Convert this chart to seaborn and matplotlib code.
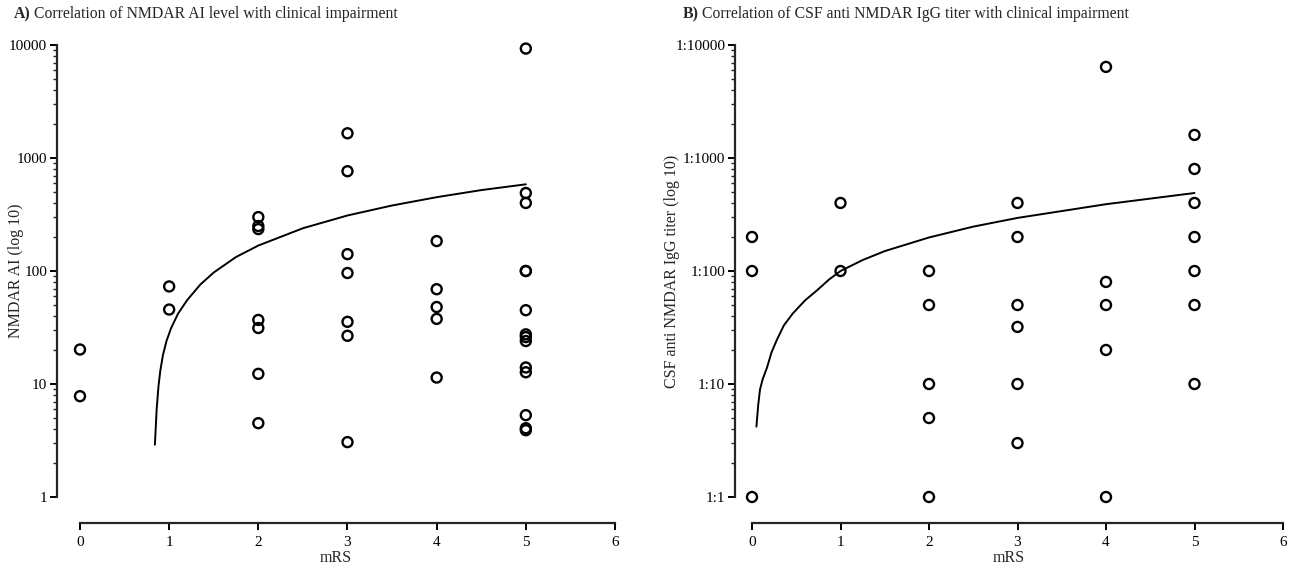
import numpy as np
import pandas as pd
import matplotlib
matplotlib.use("Agg")
import matplotlib.pyplot as plt
import matplotlib.ticker as mticker
import seaborn as sns

# --- data ---
# panel A: NMDAR AI level per mRS grade
ai_mrs0 = [20.2, 7.8]
ai_mrs1 = [73, 45.6]
ai_mrs2 = [300, 250, 235, 36.9, 31.3, 12.3, 4.5]
ai_mrs3 = [1655, 764, 141, 96, 35.5, 26.7, 3.06]
ai_mrs4 = [184, 69, 48, 37.7, 11.4]
ai_mrs5 = [9300, 490, 400, 100, 100, 45, 27.5, 26, 24, 14, 12.7, 5.3, 4.06, 3.9]

# panel B: CSF anti NMDAR IgG titer (reciprocal) per mRS grade
csf_mrs0 = [200, 100, 1]
csf_mrs1 = [400, 100]
csf_mrs2 = [100, 50, 10, 5, 1]
csf_mrs3 = [400, 200, 50, 32, 10, 3]
csf_mrs4 = [6400, 80, 50, 20, 1]
csf_mrs5 = [1600, 800, 400, 200, 100, 50, 10]

# fitted curves
fit_a_x = [0.84, 0.86, 0.88, 0.90, 0.93, 0.97, 1.02, 1.1, 1.2, 1.35, 1.5, 1.75, 2.0, 2.5, 3.0, 3.5, 4.0, 4.5, 5.0]
fit_a_y = [2.9, 6.0, 9.5, 13, 18, 24, 31, 42, 55, 76, 97, 133, 168, 239, 310, 380, 450, 520, 585]
fit_b_x = [0.05, 0.07, 0.09, 0.12, 0.17, 0.22, 0.28, 0.36, 0.46, 0.6, 0.74, 0.87, 1.0, 1.25, 1.5, 2.0, 2.5, 3.0, 4.0, 5.0]
fit_b_y = [4.2, 6.5, 8.9, 11, 14, 19, 24.5, 33, 42, 55, 68, 84, 100, 125, 150, 198, 247, 295, 390, 490]

y_ticks = [1, 10, 100, 1000, 10000]
x_ticks = [0, 1, 2, 3, 4, 5, 6]


def to_frame(groups):
    rows = []
    for mrs, vals in enumerate(groups):
        for v in vals:
            rows.append({"mRS": mrs, "value": v})
    return pd.DataFrame(rows)


df_a = to_frame([ai_mrs0, ai_mrs1, ai_mrs2, ai_mrs3, ai_mrs4, ai_mrs5])
df_b = to_frame([csf_mrs0, csf_mrs1, csf_mrs2, csf_mrs3, csf_mrs4, csf_mrs5])

sns.set_style("ticks")
plt.rcParams["font.family"] = ["Liberation Serif", "DejaVu Serif"]
plt.rcParams["axes.linewidth"] = 1.6

W, H = 1298, 568
fig = plt.figure(figsize=(W / 100, H / 100), dpi=100)

# axes boxes in pixels: left spine x to right end x
ax_a = fig.add_axes([57 / W, 1 - 497 / H, (615 - 57) / W, (497 - 45) / H])
ax_b = fig.add_axes([735 / W, 1 - 497 / H, (1283 - 735) / W, (497 - 45) / H])


def style_axis(ax, df, fx, fy, x0, ylabel, fmt, label_x):
    ax.set_yscale("log")
    sns.scatterplot(data=df, x="mRS", y="value", ax=ax, marker="o", s=52,
                    facecolors="none", edgecolor="black", linewidth=1.7,
                    clip_on=False, zorder=3)
    sns.lineplot(x=fx, y=fy, ax=ax, sort=False, color="black", lw=1.4)
    ax.set_xlim(x0, 6)
    ax.set_ylim(1, 10000)
    ax.set_xticks(x_ticks)
    ax.set_yticks(y_ticks)
    ax.yaxis.set_major_formatter(mticker.FuncFormatter(fmt))
    ax.yaxis.set_minor_locator(mticker.LogLocator(base=10, subs=np.arange(2, 10)))
    ax.yaxis.set_minor_formatter(mticker.NullFormatter())
    sns.despine(ax=ax)
    ax.spines["bottom"].set_position(("outward", 19))
    ax.spines["bottom"].set_bounds(0, 6)
    ax.tick_params(axis="both", which="major", length=5, width=1.4,
                   labelsize=11, color="black", labelcolor="black", pad=2)
    ax.tick_params(axis="x", which="major", pad=4)
    ax.tick_params(axis="y", which="minor", length=2.8, width=1.0)
    ax.set_xlabel("mRS", fontsize=11.5, labelpad=1)
    ax.set_ylabel(ylabel, fontsize=11.5)
    ax.yaxis.set_label_coords(label_x, 0.5)


style_axis(ax_a, df_a, fit_a_x, fit_a_y, -23 / 89.2, "NMDAR AI (log 10)",
           lambda v, p: f"{v:g}", (24 - 57) / 558)
style_axis(ax_b, df_b, fit_b_x, fit_b_y, -17 / 88.5,
           "CSF anti NMDAR IgG titer (log 10)", lambda v, p: f"1:{v:g}",
           (680 - 735) / 548)

# panel titles: bold letter followed by regular text
fig.canvas.draw()
renderer = fig.canvas.get_renderer()
for px, letter, text in [(14, "A)", "Correlation of NMDAR AI level with clinical impairment"),
                         (683, "B)", "Correlation of CSF anti NMDAR IgG titer with clinical impairment")]:
    t = fig.text(px / W, 1 - 14 / H, letter, fontsize=11.3, fontweight="bold",
                 va="center", ha="left")
    bb = t.get_window_extent(renderer)
    fig.text((bb.x1 + 3) / W, 1 - 14 / H, text, fontsize=11.3, va="center", ha="left")

fig.savefig("out.png", dpi=100)
